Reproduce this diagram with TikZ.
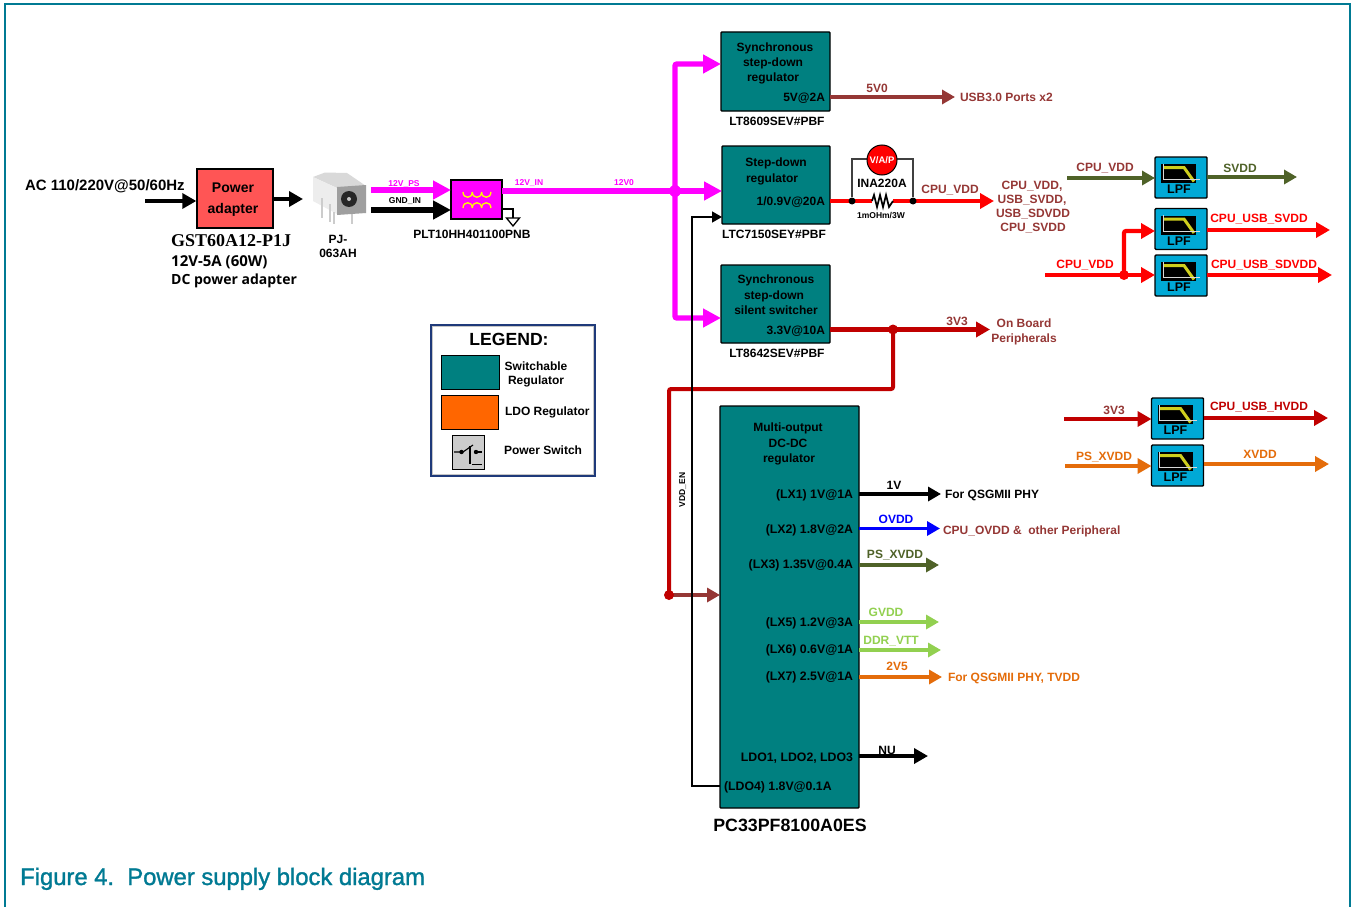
\documentclass[tikz,border=0pt]{standalone}
\usepackage{fontspec}
\setmainfont{Liberation Sans}
\newfontfamily\capfont[FakeBold=1.3]{Liberation Sans}
\newfontfamily\serifb{Liberation Serif}
\newfontfamily\opensans{Open Sans}
\usetikzlibrary{arrows.meta,calc}
\definecolor{frameteal}{HTML}{007A93}
\definecolor{regteal}{HTML}{008080}
\definecolor{brownr}{HTML}{953735}
\definecolor{dred}{HTML}{C00000}
\definecolor{olive}{HTML}{4F6228}
\definecolor{lgreen}{HTML}{92D050}
\definecolor{orng}{HTML}{E46C0A}
\definecolor{lpfblue}{HTML}{00A9D6}
\definecolor{adapter}{HTML}{FF5555}
\definecolor{ldo}{HTML}{FF6600}
\definecolor{navy}{HTML}{1F3A7A}
\definecolor{mg}{HTML}{FF00FF}
\definecolor{pred}{HTML}{FF0000}
\definecolor{pblue}{HTML}{0000FF}
\definecolor{pyellow}{HTML}{FFFF00}
\definecolor{lpfyel}{HTML}{CFCF1E}
\tikzset{
  fs/.style={inner sep=0pt,outer sep=0pt,font=\fontsize{#1}{#1}\selectfont\bfseries,text height={0.72*#1*1pt},text depth=0pt},
  regbox/.style={draw=black,line width=1.4pt,fill=regteal,rounded corners=0.8pt,inner sep=0pt,outer sep=0pt},
  lpfbox/.style={draw=black,line width=1.4pt,fill=lpfblue,rounded corners=1pt,minimum width=52pt,minimum height=41pt,inner sep=0pt,outer sep=0pt},
  ar/.style args={#1 tip #2 by #3}{line width=#1pt,-{Triangle[length=#2pt,width=#3pt]}},
  thin3/.style={ar=3.4 tip 13 by 14},
  thick4/.style={ar=4.2 tip 14 by 15},
  thick5/.style={ar=5.4 tip 18 by 18},
  dotn/.style={circle,fill=#1,inner sep=0pt,minimum size=10pt},
}
% LPF block: name, centre x, centre y
\newcommand{\lpfblock}[3]{%
  \node[lpfbox] (#1) at (#2,#3) {};
  \fill[black] ($(#1.center)+(-20,-13.5)$) rectangle ($(#1.center)+(15,5.5)$);
  \draw[lpfyel,line width=3pt] ($(#1.center)+(-18,-10)$) -- ($(#1.center)+(3,-10)$) -- ($(#1.center)+(13,4)$);
  \draw[white!85!black,line width=0.9pt] ($(#1.center)+(-18,-14)$) -- ($(#1.center)+(-18,2)$) -- ($(#1.center)+(19,2)$);
  \node[fs=12.5] (#1t) at ($(#1.center)+(-2,11.5)$) {LPF};
}
\begin{document}
\begin{tikzpicture}[x=1pt,y=-1pt]
\useasboundingbox (0,0) rectangle (1352,907);
\fill[white] (0,0) rectangle (1352,907);
\draw[frameteal,line width=2pt] (4.5,907) -- (4.5,4) -- (1350,4) -- (1350,907);

% ---------- blocks
\node[draw=black,line width=1.4pt,fill=adapter,minimum width=76pt,minimum height=59pt,inner sep=0pt] (adapt) at (235,198.5) {};
\node[fs=14] (adaptA) at (233,187) {Power};
\node[fs=14] (adaptB) at (233,208) {adapter};
\node[draw=black,line width=1.4pt,fill=mg,minimum width=51pt,minimum height=39pt,inner sep=0pt,outer sep=0pt] (filt) at (476.5,199.5) {};
\node[regbox,minimum width=109pt,minimum height=79pt] (reg1) at (775.5,71.5) {};
\node[regbox,minimum width=108pt,minimum height=78pt] (reg2) at (776,185) {};
\node[regbox,minimum width=109pt,minimum height=78pt] (reg3) at (775.5,304) {};
\node[regbox,minimum width=139pt,minimum height=402pt] (reg4) at (789.5,607) {};
\lpfblock{lpfa}{1181}{177.5}
\lpfblock{lpfb}{1181}{229}
\lpfblock{lpfc}{1181}{275.5}
\lpfblock{lpfd}{1177.5}{418.5}
\lpfblock{lpfe}{1177.5}{465.5}

% ---------- free ends
\coordinate (acin) at (145,201);
\coordinate (jackin) at (303,199);
\coordinate (psstart) at (371,190);
\coordinate (gndstart) at (371,210);
\coordinate (jn) at (675,191);
\coordinate (topc) at (675,64);
\coordinate (botc) at (675,318);
\coordinate (usb) at (955,97);
\coordinate (resL) at (872,201);
\coordinate (resR) at (893,201);
\coordinate (cpuend) at (994,201);
\coordinate (j3) at (893,329.5);
\coordinate (periph) at (990,329.5);
\coordinate (c3a) at (893,389);
\coordinate (c3b) at (669,389);
\coordinate (j4) at (669,595);
\coordinate (vddA) at (692,786);
\coordinate (vddB) at (692,217);
\coordinate (o1) at (941,494);
\coordinate (o2) at (940,528.5);
\coordinate (o3) at (939,565);
\coordinate (o5) at (939,622);
\coordinate (o6) at (941,650);
\coordinate (o7) at (942,677);
\coordinate (o8) at (928,756);
\coordinate (vin1) at (1067,178);
\coordinate (vout1) at (1297,177);
\coordinate (vin2) at (1045,275);
\coordinate (j5) at (1124,275);
\coordinate (j5up) at (1124,231);
\coordinate (vout2) at (1330,230);
\coordinate (vout3) at (1332,275);
\coordinate (vin4) at (1064,419);
\coordinate (vout4) at (1328,418);
\coordinate (vin5) at (1065,466);
\coordinate (vout5) at (1329,464);

% ---------- left section connectors
\draw[ar=3.4 tip 14 by 15] (acin) -- (adapt.west |- acin);
\draw[ar=3.4 tip 14 by 15] (adapt.east |- jackin) -- (jackin);
\draw[mg,thick5] (psstart) -- (filt.west |- psstart);
\draw[black,thick5] (gndstart) -- (filt.west |- gndstart);
\draw[mg,line width=5.4pt] (filt.east |- jn) -- (jn);
\draw[mg,thick5] (jn) -- (reg2.west |- jn);
\draw[mg,thick5,rounded corners=2pt] (jn) -- (topc) -- (reg1.west |- topc);
\draw[mg,thick5,rounded corners=2pt] (jn) -- (botc) -- (reg3.west |- botc);
\node[circle,fill=mg,inner sep=0pt,minimum size=12pt] (jnd) at (jn) {};

% ground
\coordinate (gw1) at (513,209);
\coordinate (gw2) at (513,218);
\draw[black,line width=1.3pt] (filt.east |- gw1) -- (gw1) -- (gw2);
\draw[black,line width=1.3pt,fill=white] (506.5,218) -- (519.5,218) -- (513,226) -- cycle;
% coils
\foreach \i in {0,1,2}{
  \draw[pyellow,line width=1.3pt] ({463+9.3*\i},192) .. controls ({463+9.3*\i},199) and ({472.3+9.3*\i},199) .. ({472.3+9.3*\i},192);
  \draw[pyellow,line width=1.3pt] ({463+9.3*\i},208) .. controls ({463+9.3*\i},201) and ({472.3+9.3*\i},201) .. ({472.3+9.3*\i},208);
}

% DC jack
\fill[gray!30] (313,177) -- (325,172.5) -- (347,173) -- (366,186) -- (337,188) -- cycle;
\fill[gray!14] (313,177) -- (337,188) -- (337,214) -- (313,201) -- cycle;
\draw[gray!40,line width=2pt] (322,198) -- (322,218) (330,204) -- (330,222) (352,214) -- (352,224) (334,212)--(334,224);
\fill[gray!75] (337,187) -- (366,185) -- (366,213) -- (337,215) -- cycle;
\fill[black!85] (349,199) circle[radius=8pt];
\fill[gray!45] (349,199) circle[radius=2pt];

% ---------- regulator outputs
\draw[brownr,thin3] (reg1.east |- usb) -- (usb);
\draw[pred,line width=4.2pt] (reg2.east |- resL) -- (resL);
\draw[pred,thick4] (resR) -- (cpuend);
\draw[black,line width=1.7pt] (resL) -- (874,195) -- (877,207) -- (880,195) -- (883,207) -- (886,195) -- (889,207) -- (resR);
\node[circle,fill=black,inner sep=0pt,minimum size=7pt] (d1) at (852,201) {};
\node[circle,fill=black,inner sep=0pt,minimum size=7pt] (d2) at (913,201) {};
\draw[black!75,line width=1.2pt] (d1) -- (852,159) -- (913,159) -- (d2);
\node[circle,draw=black,line width=1pt,fill=pred,minimum size=30pt,inner sep=0pt] (vap) at (882,160) {};
\node[fs=9.5,text=white] (vapt) at (882,160) {V/A/P};

\draw[dred,thick4] (reg3.east |- periph) -- (periph);
\draw[dred,line width=4pt,rounded corners=2pt] (j3) -- (c3a) -- (c3b) -- (j4);
\node[dotn=dred] (j3d) at (j3) {};
\draw[brownr,thin3] (j4) -- (reg4.west |- j4);
\node[dotn=dred] (j4d) at (j4) {};

\draw[black,line width=1.5pt,-{Triangle[length=10pt,width=11pt]}] (reg4.west |- vddA) -- (vddA) -- (vddB) -- (reg2.west |- vddB);

\draw[black,thin3] (reg4.east |- o1) -- (o1);
\draw[pblue,thin3] (reg4.east |- o2) -- (o2);
\draw[olive,thin3] (reg4.east |- o3) -- (o3);
\draw[lgreen,thin3] (reg4.east |- o5) -- (o5);
\draw[lgreen,thin3] (reg4.east |- o6) -- (o6);
\draw[orng,thin3] (reg4.east |- o7) -- (o7);
\draw[black,thick4] (reg4.east |- o8) -- (o8);

% ---------- LPF connectors
\draw[olive,thin3] (vin1) -- (lpfa.west |- vin1);
\draw[olive,thin3] (lpfa.east |- vout1) -- (vout1);
\draw[pred,thick4] (vin2) -- (lpfc.west |- vin2);
\draw[pred,thick4,rounded corners=2pt] (j5) -- (j5up) -- (lpfb.west |- j5up);
\node[dotn=pred] (j5d) at (j5) {};
\draw[pred,thick4] (lpfb.east |- vout2) -- (vout2);
\draw[pred,thick4] (lpfc.east |- vout3) -- (vout3);
\draw[dred,thick4] (vin4) -- (lpfd.west |- vin4);
\draw[dred,thick4] (lpfd.east |- vout4) -- (vout4);
\draw[orng,thick4] (vin5) -- (lpfe.west |- vin5);
\draw[orng,thick4] (lpfe.east |- vout5) -- (vout5);

% ---------- legend
\node[draw=navy,line width=2pt,fill=white,minimum width=164pt,minimum height=151pt,inner sep=0pt] (legend) at (513,400.5) {};
\draw[gray!45,line width=0.8pt] (432.5,326.5) rectangle (593.5,474.5);
\node[fs=17.6] (legt) at (509,339) {LEGEND:};
\node[draw=black,line width=1pt,fill=regteal,minimum width=58pt,minimum height=34pt,inner sep=0pt] (swatchA) at (470,372) {};
\node[draw=black,line width=1pt,fill=ldo,minimum width=57pt,minimum height=34pt,inner sep=0pt] (swatchB) at (469.5,412) {};
\node[draw=black,line width=1pt,fill=gray!40,minimum width=32pt,minimum height=34pt,inner sep=0pt] (swatchC) at (468,452) {};
\draw[black,line width=1.1pt] (454,452) -- (463,452) -- (473,445);
\draw[black,line width=1.1pt] (470,446) -- (470,464);
\draw[black,line width=1.1pt] (476,452) -- (482,452);
\draw[black,line width=1pt] (472,464) -- (482,464);
\fill[black] (461.5,452) circle[radius=2.2pt] (476,452) circle[radius=2.2pt];
\node[fs=12] (la1) at (536,366) {Switchable};
\node[fs=12] (la2) at (536,380) {Regulator};
\node[fs=12,anchor=west] (la3) at (505,411) {LDO Regulator};
\node[fs=12,anchor=west] (la4) at (504,450) {Power Switch};

% ---------- left texts
\node[fs=15,anchor=west] (ac) at (25,185) {AC 110/220V@50/60Hz};
\node[inner sep=0pt,anchor=west,font=\serifb\fontsize{18}{18}\selectfont\bfseries,text height=11.8pt,text depth=0pt] (gst) at (171,241) {GST60A12-P1J};
\node[inner sep=0pt,anchor=west,font=\opensans\fontsize{15}{15}\selectfont\bfseries,text height=10.8pt,text depth=0pt] (spec1) at (171,261) {12V-5A (60W)};
\node[inner sep=0pt,anchor=west,font=\opensans\fontsize{14}{14}\selectfont\bfseries,text height=10pt,text depth=0pt] (spec2) at (171,279) {DC power adapter};
\node[fs=12] (pj1) at (338,239) {PJ-};
\node[fs=12] (pj2) at (338,253) {063AH};
\node[fs=8.5,text=mg] (l12ps) at (404,183) {12V\_PS};
\node[fs=8.5] (lgnd) at (405,200) {GND\_IN};
\node[fs=8.5,text=mg] (l12in) at (529,182) {12V\_IN};
\node[fs=8.5,text=mg] (l12v0) at (624,182) {12V0};
\node[fs=12] (plt) at (472,234) {PLT10HH401100PNB};

% ---------- regulator texts
\node[fs=12] (r1a) at (775,47) {Synchronous};
\node[fs=12] (r1b) at (773,62) {step-down};
\node[fs=12] (r1c) at (773,77) {regulator};
\node[fs=12,anchor=east] (r1d) at (825,97) {5V@2A};
\node[fs=12] (r1n) at (777,121) {LT8609SEV\#PBF};
\node[fs=12] (r2a) at (776,162) {Step-down};
\node[fs=12] (r2b) at (772,178) {regulator};
\node[fs=12,anchor=east] (r2d) at (825,201) {1/0.9V@20A};
\node[fs=12] (r2n) at (774,234) {LTC7150SEY\#PBF};
\node[fs=12] (r3a) at (776,279) {Synchronous};
\node[fs=12] (r3b) at (774,295) {step-down};
\node[fs=12] (r3c) at (776,310) {silent switcher};
\node[fs=12,anchor=east] (r3d) at (825,330) {3.3V@10A};
\node[fs=12] (r3n) at (777,353) {LT8642SEV\#PBF};
\node[fs=12] (r4a) at (788,427) {Multi-output};
\node[fs=12] (r4b) at (788,443) {DC-DC};
\node[fs=12] (r4c) at (789,458) {regulator};
\node[fs=12.3,anchor=east] (x1) at (853,494) {(LX1) 1V@1A};
\node[fs=12.3,anchor=east] (x2) at (853,529) {(LX2) 1.8V@2A};
\node[fs=12.3,anchor=east] (x3) at (853,564) {(LX3) 1.35V@0.4A};
\node[fs=12.3,anchor=east] (x5) at (853,622) {(LX5) 1.2V@3A};
\node[fs=12.3,anchor=east] (x6) at (853,649) {(LX6) 0.6V@1A};
\node[fs=12.3,anchor=east] (x7) at (853,676) {(LX7) 2.5V@1A};
\node[fs=12.3,anchor=east] (x8) at (853,757) {LDO1, LDO2, LDO3};
\node[fs=12.3,anchor=west] (x9) at (724,786) {(LDO4) 1.8V@0.1A};
\node[fs=17.8] (r4n) at (790,825) {PC33PF8100A0ES};
\node[fs=8.5,rotate=90] (vddl) at (682,490) {VDD\_EN};

% ---------- output labels
\node[fs=12,text=brownr] (t5v0) at (877,88) {5V0};
\node[fs=12,text=brownr,anchor=west] (tusb) at (960,97) {USB3.0 Ports x2};
\node[fs=12] (tina) at (882,183) {INA220A};
\node[fs=8.5] (tres) at (881,215) {1mOHm/3W};
\node[fs=12,text=brownr] (tcpu) at (950,189) {CPU\_VDD};
\node[fs=12,text=brownr] (tl1) at (1032,185) {CPU\_VDD,};
\node[fs=12,text=brownr] (tl2) at (1032,199) {USB\_SVDD,};
\node[fs=12,text=brownr] (tl3) at (1033,213) {USB\_SDVDD};
\node[fs=12,text=brownr] (tl4) at (1033,227) {CPU\_SVDD};
\node[fs=12,text=brownr] (t3v3) at (957,321) {3V3};
\node[fs=12,text=brownr] (tob1) at (1024,323) {On Board};
\node[fs=12,text=brownr] (tob2) at (1024,338) {Peripherals};
\node[fs=12] (t1v) at (894,485) {1V};
\node[fs=12,anchor=west] (tq1) at (945,494) {For QSGMII PHY};
\node[fs=12,text=pblue] (tov) at (896,519) {OVDD};
\node[fs=12,text=brownr,anchor=west] (tov2) at (943,530) {CPU\_OVDD \&\ \ other Peripheral};
\node[fs=12,text=olive] (tpsx) at (895,554) {PS\_XVDD};
\node[fs=12,text=lgreen] (tgv) at (886,612) {GVDD};
\node[fs=12,text=lgreen] (tddr) at (891,640) {DDR\_VTT};
\node[fs=12,text=orng] (t2v5) at (897,666) {2V5};
\node[fs=12,text=orng,anchor=west] (tq2) at (948,677) {For QSGMII PHY, TVDD};
\node[fs=12] (tnu) at (887,750) {NU};

\node[fs=12,text=brownr] (ta1) at (1105,167) {CPU\_VDD};
\node[fs=12,text=olive] (ta2) at (1240,168) {SVDD};
\node[fs=12,text=pred] (tb1) at (1085,264) {CPU\_VDD};
\node[fs=12,text=pred] (tb2) at (1259,218) {CPU\_USB\_SVDD};
\node[fs=12,text=pred] (tc2) at (1264,264) {CPU\_USB\_SDVDD};
\node[fs=12,text=brownr] (td1) at (1114,410) {3V3};
\node[fs=12,text=dred] (td2) at (1259,406) {CPU\_USB\_HVDD};
\node[fs=12,text=orng] (te1) at (1104,456) {PS\_XVDD};
\node[fs=12,text=orng] (te2) at (1260,454) {XVDD};

% ---------- caption
\node[inner sep=0pt,anchor=base west,text=frameteal,font=\capfont\fontsize{23.8}{24}\selectfont] (cap) at (20,885) {Figure 4.\ \ Power supply block diagram};
\end{tikzpicture}
\end{document}
